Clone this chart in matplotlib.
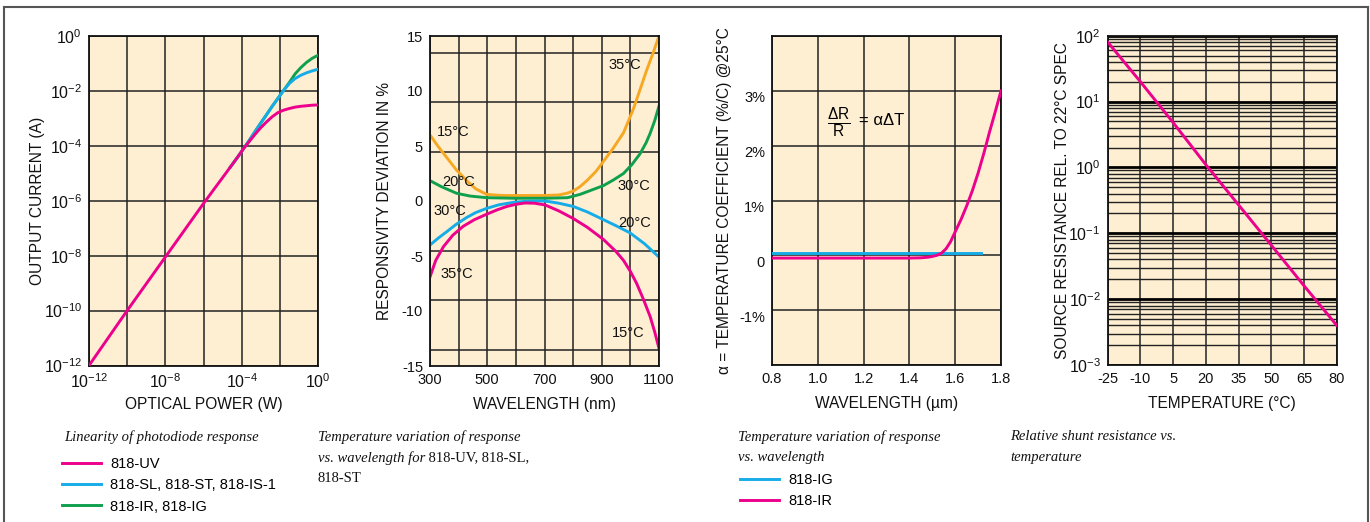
import matplotlib
matplotlib.use("Agg")
import matplotlib.pyplot as plt
import matplotlib.ticker as mticker
from matplotlib.lines import Line2D
from matplotlib.transforms import ScaledTranslation
import numpy as np

plt.rcParams['font.family'] = ['Liberation Sans', 'DejaVu Sans']
plt.rcParams['mathtext.fontset'] = 'custom'
plt.rcParams['mathtext.rm'] = 'Liberation Sans'
plt.rcParams['mathtext.it'] = 'Liberation Sans:italic'
plt.rcParams['axes.unicode_minus'] = False

# ---------------- data ----------------
# panel 1: linearity (log10 values)
power_exp = [-12, -10, -8, -6, -4.6, -4.2, -3.9, -3.6, -3.3, -3.0, -2.7, -2.4, -2.1, -1.8,
             -1.5, -1.2, -0.9, -0.6, -0.3, 0]
uv_exp = [-12, -10, -8.05, -6.1, -4.78, -4.4, -4.1, -3.84, -3.58, -3.34, -3.13, -2.94, -2.79, -2.7,
          -2.64, -2.59, -2.56, -2.54, -2.52, -2.51]
power_hi_exp = [-4.6, -4.2, -3.9, -3.6, -3.3, -3.0, -2.7, -2.4, -2.1, -1.8, -1.5, -1.2, -0.9, -0.6, -0.3, 0]
si_exp = [-4.78, -4.4, -4.1, -3.8, -3.48, -3.17, -2.87, -2.56, -2.27, -1.98, -1.73, -1.55, -1.43, -1.34, -1.27, -1.21]
ir_exp = [-4.78, -4.4, -4.1, -3.8, -3.48, -3.17, -2.87, -2.56, -2.27, -1.98, -1.69, -1.38, -1.15, -0.96, -0.81, -0.70]

# panel 2: responsivity deviation (%) vs wavelength (nm)
wl_35 = [300, 330, 360, 393, 430, 460, 498, 550, 600, 650, 700, 750, 778, 800, 824, 850, 880, 906,
         940, 976, 1011, 1040, 1057, 1080, 1100]
dev_35 = [6.0, 4.9, 3.9, 2.8, 1.8, 1.1, 0.6, 0.5, 0.5, 0.5, 0.5, 0.55, 0.7, 0.9, 1.3, 1.9, 2.7, 3.6,
          4.8, 6.2, 8.4, 10.6, 11.9, 13.5, 15.0]
wl_30 = [300, 340, 393, 440, 498, 600, 700, 780, 824, 860, 906, 940, 976, 1005, 1034, 1055, 1069, 1085, 1100]
dev_30 = [1.85, 1.3, 0.7, 0.45, 0.3, 0.25, 0.25, 0.3, 0.6, 0.95, 1.4, 1.9, 2.5, 3.3, 4.3, 5.3, 6.15, 7.3, 8.64]
wl_20 = [300, 330, 358, 390, 428, 460, 498, 540, 591, 640, 702, 750, 801, 850, 906, 950, 999, 1050, 1100]
dev_20 = [-4.0, -3.35, -2.8, -2.15, -1.5, -1.05, -0.67, -0.35, -0.12, -0.02, 0.0, -0.2, -0.5, -1.0,
          -1.7, -2.25, -2.9, -3.9, -5.1]
wl_15 = [300, 320, 347, 380, 416, 455, 498, 535, 568, 600, 632, 665, 702, 750, 801, 850, 906, 950,
         976, 1000, 1022, 1045, 1069, 1085, 1100]
dev_15 = [-6.9, -5.4, -4.15, -3.1, -2.3, -1.7, -1.2, -0.8, -0.5, -0.3, -0.18, -0.2, -0.36, -0.9, -1.6,
          -2.4, -3.5, -4.6, -5.4, -6.4, -7.5, -8.9, -10.5, -11.9, -13.4]

# panel 3: temperature coefficient (%/C) vs wavelength (um)
wl_ig = [0.8, 1.0, 1.2, 1.4, 1.6, 1.713]
tc_ig = [0.05, 0.05, 0.05, 0.05, 0.05, 0.05]
wl_ir = [0.8, 1.0, 1.2, 1.4, 1.45, 1.48, 1.5, 1.52, 1.54, 1.56, 1.58, 1.6, 1.625, 1.65, 1.675,
         1.7, 1.725, 1.75, 1.775, 1.8]
tc_ir = [-0.05, -0.05, -0.05, -0.05, -0.045, -0.035, -0.02, 0.0, 0.04, 0.12, 0.25, 0.43, 0.65, 0.9,
         1.18, 1.5, 1.86, 2.25, 2.62, 3.0]

# panel 4: relative shunt resistance vs temperature
temp_c = [-25, -10, 5, 20, 35, 50, 65, 80]
rel_res = [80, 20, 4.8, 1.1, 0.27, 0.066, 0.016, 0.004]

MAGENTA = '#EC008C'
BLUE = '#16ACE8'
GREEN = '#0FA04E'
ORANGE = '#F7A823'
CREAM = '#FEEFD2'
GRID = '#222222'
LW = 2.1

W, H = 1370, 522
fig = plt.figure(figsize=(W / 100, H / 100), dpi=100)


def px_axes(left, right, top, bottom):
    return fig.add_axes([left / W, 1 - bottom / H, (right - left) / W, (bottom - top) / H])


def style(ax, size=10.5):
    ax.set_facecolor(CREAM)
    for s in ax.spines.values():
        s.set_linewidth(1.3)
        s.set_color('#111111')
    ax.tick_params(which='both', length=0, pad=5, labelsize=size, labelcolor='#111111')
    ax.set_axisbelow(True)


lab_kw = dict(fontsize=11.2, color='#111111')

# ---------------- panel 1 ----------------
ax1 = px_axes(89, 318, 36, 365.5)
ax1.set_xscale('log')
ax1.set_yscale('log')
ax1.plot(10 ** np.array(power_hi_exp), 10 ** np.array(ir_exp), color=GREEN, lw=LW, zorder=3)
ax1.plot(10 ** np.array(power_hi_exp), 10 ** np.array(si_exp), color=BLUE, lw=LW, zorder=4)
ax1.plot(10 ** np.array(power_exp), 10 ** np.array(uv_exp), color=MAGENTA, lw=LW, zorder=5)
ax1.set_xlim(1e-12, 1)
ax1.set_ylim(1e-12, 1)
ax1.xaxis.set_major_locator(mticker.FixedLocator([1e-12, 1e-8, 1e-4, 1]))
ax1.xaxis.set_minor_locator(mticker.FixedLocator([1e-10, 1e-6, 1e-2]))
ax1.xaxis.set_minor_formatter(mticker.NullFormatter())
ax1.yaxis.set_major_locator(mticker.FixedLocator([10.0 ** e for e in range(-12, 1, 2)]))
ax1.yaxis.set_minor_locator(mticker.NullLocator())
ax1.grid(True, which='both', color=GRID, lw=1.1)
style(ax1, 11.5)
ax1.set_xlabel('OPTICAL POWER (W)', **lab_kw)
ax1.set_ylabel('OUTPUT CURRENT (A)', **lab_kw)
ax1.yaxis.set_label_coords(-0.19, 0.5)
ax1.xaxis.set_label_coords(0.5, -0.095)

# ---------------- panel 2 ----------------
ax2 = px_axes(430, 659, 36, 366)
ax2.plot(wl_35, dev_35, color=ORANGE, lw=LW)
ax2.plot(wl_30, dev_30, color=GREEN, lw=LW)
ax2.plot(wl_20, dev_20, color=BLUE, lw=LW)
ax2.plot(wl_15, dev_15, color=MAGENTA, lw=LW)
ax2.set_xlim(300, 1100)
ax2.set_ylim(-15, 15)
ax2.set_xticks([300, 500, 700, 900, 1100])
ax2.set_xticks([400, 600, 800, 1000], minor=True)
ax2.set_yticks([-15, -10, -5, 0, 5, 10, 15])
ax2.set_yticks([-13.5, -9, -4.5, 0, 4.5, 9, 13.5], minor=True)
ax2.grid(True, axis='x', which='both', color=GRID, lw=1.1)
ax2.grid(True, axis='y', which='minor', color=GRID, lw=1.1)
style(ax2)
ax2.set_xlabel('WAVELENGTH (nm)', **lab_kw)
ax2.set_ylabel('RESPONSIVITY DEVIATION IN %', **lab_kw)
ax2.yaxis.set_label_coords(-0.165, 0.5)
ax2.xaxis.set_label_coords(0.5, -0.095)
temp_labels = [('15°C', 381, 6.3), ('20°C', 399, 1.7), ('30°C', 368, -0.9), ('35°C', 393, -6.6),
               ('35°C', 981, 12.4), ('30°C', 1013, 1.4), ('20°C', 1016, -2.0), ('15°C', 993, -12.0)]
for txt, xv, yv in temp_labels:
    ax2.text(xv, yv, txt, ha='center', va='center', fontsize=10.5, color='#111111')

# ---------------- panel 3 ----------------
ax3 = px_axes(772, 1001, 36, 365)
ax3.plot(wl_ig, tc_ig, color=BLUE, lw=LW, zorder=3)
ax3.plot(wl_ir, tc_ir, color=MAGENTA, lw=LW, zorder=4)
ax3.set_xlim(0.8, 1.8)
ax3.set_ylim(-2, 4)
ax3.set_xticks([0.8, 1.0, 1.2, 1.4, 1.6, 1.8])
ax3.set_xticklabels(['0.8', '1.0', '1.2', '1.4', '1.6', '1.8'])
ax3.set_yticks([-1, 0, 1, 2, 3])
ax3.set_yticklabels(['-1%', '0', '1%', '2%', '3%'])
ax3.set_yticks([-2, 4], minor=True)
ax3.grid(True, which='both', color=GRID, lw=1.1)
style(ax3)
off = ScaledTranslation(0, -6 / 100, fig.dpi_scale_trans)
for lab in ax3.get_yticklabels():
    lab.set_transform(lab.get_transform() + off)
ax3.set_xlabel('WAVELENGTH (\u00b5m)', **lab_kw)
ax3.set_ylabel('\u03b1 = TEMPERATURE COEFFICIENT (%/C) @25°C', **lab_kw)
ax3.yaxis.set_label_coords(-0.175, 0.5)
ax3.xaxis.set_label_coords(0.5, -0.095)
ax3.text(1.093, 2.43, r'$\frac{\Delta\mathrm{R}}{\mathrm{R}}$', fontsize=16, ha='center', va='center')
ax3.text(1.28, 2.45, '= \u03b1\u0394T', fontsize=12, ha='center', va='center')

# ---------------- panel 4 ----------------
ax4 = px_axes(1107.7, 1336.7, 35.7, 365)
ax4.set_yscale('log')
ax4.plot(temp_c, rel_res, color=MAGENTA, lw=LW, zorder=4)
ax4.set_xlim(-25, 80)
ax4.set_ylim(1e-3, 1e2)
ax4.set_xticks(temp_c)
ax4.yaxis.set_major_locator(mticker.LogLocator(base=10, numticks=10))
ax4.yaxis.set_minor_locator(mticker.LogLocator(base=10, subs=np.arange(2, 10), numticks=20))
ax4.yaxis.set_minor_formatter(mticker.NullFormatter())
ax4.grid(True, axis='x', color=GRID, lw=1.1)
ax4.grid(True, axis='y', which='major', color='#000000', lw=2.0)
ax4.grid(True, axis='y', which='minor', color=GRID, lw=1.0)
style(ax4, 11.5)
ax4.tick_params(axis='x', labelsize=10.5)
ax4.set_xlabel('TEMPERATURE (°C)', **lab_kw)
ax4.set_ylabel('SOURCE RESISTANCE REL. TO 22°C SPEC', **lab_kw)
ax4.yaxis.set_label_coords(-0.165, 0.5)
ax4.xaxis.set_label_coords(0.5, -0.095)

# ---------------- captions ----------------
serif = ['Liberation Serif', 'DejaVu Serif']
cap_kw = dict(fontsize=10.5, family=serif, style='italic', color='#111111', va='center')


def cap(x, y, s, **kw):
    d = dict(cap_kw)
    d.update(kw)
    return fig.text(x / W, 1 - y / H, s, **d)


cap(64, 437, 'Linearity of photodiode response')
cap(318, 437, 'Temperature variation of response')
t = cap(318, 458, 'vs. wavelength for')
fig.add_artist(plt.Annotation(' 818-UV, 818-SL,', xy=(1, 0.5), xycoords=t, va='center', ha='left',
                              fontsize=10.5, family=serif, color='#111111', annotation_clip=False))
cap(318, 478, '818-ST', style='normal')
cap(738, 437, 'Temperature variation of response')
cap(738, 458, 'vs. wavelength')
cap(1010, 437, 'Relative shunt resistance vs.')
cap(1010, 458, 'temperature')

leg_kw = dict(frameon=False, loc='upper left', handlelength=2.7, handletextpad=0.6,
              labelspacing=0.5, borderpad=0, borderaxespad=0, prop={'size': 10.5})
h1 = ax1.get_lines()
fig.legend([h1[2], h1[1], h1[0]], ['818-UV', '818-SL, 818-ST, 818-IS-1', '818-IR, 818-IG'],
           bbox_to_anchor=(62 / W, 1 - 457 / H), **leg_kw)
h3 = ax3.get_lines()
fig.legend([h3[0], h3[1]], ['818-IG', '818-IR'], bbox_to_anchor=(740 / W, 1 - 473 / H), **leg_kw)

# page frame
frame_kw = dict(color='#555555', lw=1.5, transform=fig.transFigure)
fig.add_artist(Line2D([4 / W, 1368 / W], [1 - 7 / H, 1 - 7 / H], **frame_kw))
fig.add_artist(Line2D([4 / W, 4 / W], [0, 1 - 7 / H], **frame_kw))
fig.add_artist(Line2D([1368 / W, 1368 / W], [0, 1 - 7 / H], **frame_kw))

fig.savefig('out.png', dpi=100, facecolor='white')
